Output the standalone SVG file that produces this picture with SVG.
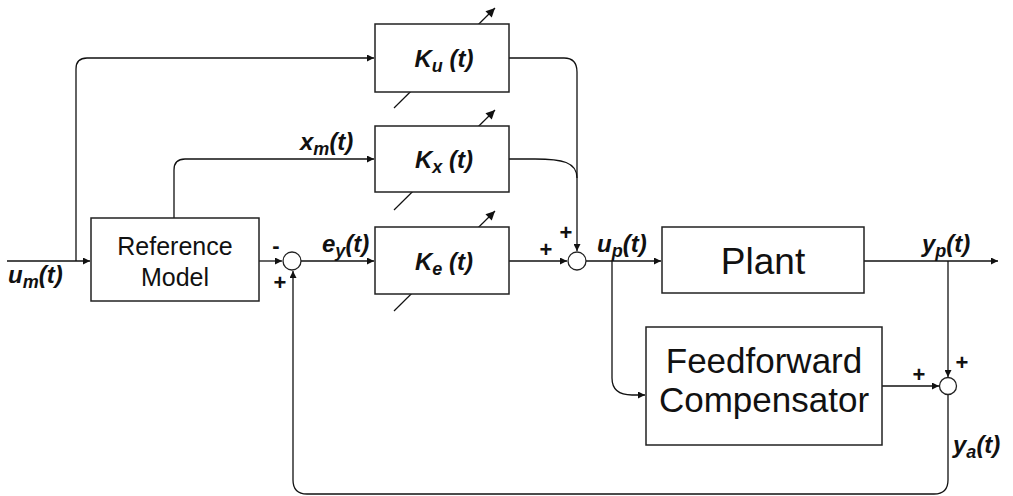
<svg xmlns="http://www.w3.org/2000/svg" width="1013" height="496" viewBox="0 0 1013 496">
  <style>
    .box { fill: #ffffff; stroke: #222222; stroke-width: 1.5; }
    .sum { fill: #ffffff; stroke: #222222; stroke-width: 1.3; }
    .wire { fill: none; stroke: #111111; stroke-width: 1.3; }
    .tune { fill: none; stroke: #111111; stroke-width: 1.2; }
    .blk { font-family: "Liberation Sans", Arial, sans-serif; fill: #111111; text-anchor: middle; }
    .sig { font-family: "Liberation Sans", Arial, sans-serif; font-weight: bold; font-style: italic; font-size: 24px; fill: #111111; }
    .sub { font-size: 18px; }
    .sign { font-family: "Liberation Sans", Arial, sans-serif; font-weight: bold; font-size: 22px; fill: #111111; text-anchor: middle; }
  </style>
  <defs>
    <marker id="arrow" viewBox="0 0 10 10" refX="10" refY="5" markerWidth="9" markerHeight="7" markerUnits="userSpaceOnUse" orient="auto">
      <path d="M0,0 L10,5 L0,10 z" fill="#111111"/>
    </marker>
    <marker id="tip" viewBox="0 0 10 10" refX="10" refY="5" markerWidth="12" markerHeight="9" markerUnits="userSpaceOnUse" orient="auto">
      <path d="M0,0 L10,5 L0,10 z" fill="#111111"/>
    </marker>
  </defs>

  <!-- signal connectors -->
  <g id="connectors">
    <!-- command input into the reference model -->
    <path class="wire" d="M7 261 H90" marker-end="url(#arrow)"/>
    <!-- command branch to Ku -->
    <path class="wire" d="M76 261 V69 Q76 58 87 58 H374" marker-end="url(#arrow)"/>
    <!-- model state to Kx -->
    <path class="wire" d="M174 218 V170 Q174 159 185 159 H374" marker-end="url(#arrow)"/>
    <!-- model output to error junction -->
    <path class="wire" d="M259 261 H282" marker-end="url(#arrow)"/>
    <!-- error to Ke -->
    <path class="wire" d="M301 261 H374" marker-end="url(#arrow)"/>
    <!-- Ku output to control junction -->
    <path class="wire" d="M509 58 H564 Q577 58 577 72 V251" marker-end="url(#arrow)"/>
    <!-- Kx output merges into the same line -->
    <path class="wire" d="M509 159 H535 C562 159 577 162 577 178"/>
    <!-- Ke output to control junction -->
    <path class="wire" d="M509 261 H567" marker-end="url(#arrow)"/>
    <!-- control signal to plant -->
    <path class="wire" d="M586 261 H661" marker-end="url(#arrow)"/>
    <!-- control branch to feedforward compensator -->
    <path class="wire" d="M612 261 V378 Q612 395 632 395 H645" marker-end="url(#arrow)"/>
    <!-- plant output -->
    <path class="wire" d="M864 261 H998" marker-end="url(#arrow)"/>
    <!-- plant output branch to augmented-output junction -->
    <path class="wire" d="M948 261 V377" marker-end="url(#arrow)"/>
    <!-- compensator output to augmented-output junction -->
    <path class="wire" d="M882 386 H939" marker-end="url(#arrow)"/>
    <!-- augmented output fed back to the error junction -->
    <path class="wire" d="M948 395 V480 Q948 494 934 494 H307 Q293 494 293 480 V271" marker-end="url(#arrow)"/>
  </g>

  <!-- adaptation arrows drawn behind the gain blocks -->
  <g id="tuning">
    <path class="tune" d="M394 108 L495 8" marker-end="url(#tip)"/>
    <path class="tune" d="M394 210 L495 110" marker-end="url(#tip)"/>
    <path class="tune" d="M394 311 L495 211" marker-end="url(#tip)"/>
  </g>

  <g id="reference-model">
    <rect class="box" x="91" y="218" width="168" height="83"/>
    <text class="blk" x="175" y="255" font-size="25">Reference</text>
    <text class="blk" x="175" y="286" font-size="25">Model</text>
  </g>

  <g id="gain-ku">
    <rect class="box" x="375" y="24" width="134" height="68"/>
    <text class="sig" x="444" y="67" text-anchor="middle" font-size="25">K<tspan class="sub" dy="5">u</tspan><tspan dy="-5"> (t)</tspan></text>
  </g>

  <g id="gain-kx">
    <rect class="box" x="375" y="126" width="134" height="66"/>
    <text class="sig" x="444" y="168" text-anchor="middle" font-size="25">K<tspan class="sub" dy="5">x</tspan><tspan dy="-5"> (t)</tspan></text>
  </g>

  <g id="gain-ke">
    <rect class="box" x="375" y="227" width="134" height="67"/>
    <text class="sig" x="444" y="270" text-anchor="middle" font-size="25">K<tspan class="sub" dy="5">e</tspan><tspan dy="-5"> (t)</tspan></text>
  </g>

  <g id="plant">
    <rect class="box" x="662" y="227" width="202" height="66"/>
    <text class="blk" x="763" y="274" font-size="37">Plant</text>
  </g>

  <g id="feedforward-compensator">
    <rect class="box" x="646" y="327" width="236" height="118"/>
    <text class="blk" x="764" y="373" font-size="35">Feedforward</text>
    <text class="blk" x="764" y="412" font-size="35">Compensator</text>
  </g>

  <g id="sum-error">
    <circle class="sum" cx="292" cy="261" r="9"/>
    <text class="sign" x="276" y="253">-</text>
    <text class="sign" x="280" y="290">+</text>
  </g>

  <g id="sum-control">
    <circle class="sum" cx="577" cy="261" r="9"/>
    <text class="sign" x="566" y="240">+</text>
    <text class="sign" x="546" y="257">+</text>
  </g>

  <g id="sum-output">
    <circle class="sum" cx="948" cy="386" r="8.5"/>
    <text class="sign" x="962" y="370">+</text>
    <text class="sign" x="919" y="382">+</text>
  </g>

  <!-- signal labels -->
  <g id="labels">
    <text class="sig" x="8" y="283">u<tspan class="sub" dy="5">m</tspan><tspan dy="-5">(t)</tspan></text>
    <text class="sig" x="300" y="150">x<tspan class="sub" dy="5">m</tspan><tspan dy="-5">(t)</tspan></text>
    <text class="sig" x="322" y="252">e<tspan class="sub" dy="5">y</tspan><tspan dy="-5">(t)</tspan></text>
    <text class="sig" x="597" y="252">u<tspan class="sub" dy="5">p</tspan><tspan dy="-5">(t)</tspan></text>
    <text class="sig" x="922" y="252">y<tspan class="sub" dy="5">p</tspan><tspan dy="-5">(t)</tspan></text>
    <text class="sig" x="953" y="453">y<tspan class="sub" dy="5">a</tspan><tspan dy="-5">(t)</tspan></text>
  </g>
</svg>
